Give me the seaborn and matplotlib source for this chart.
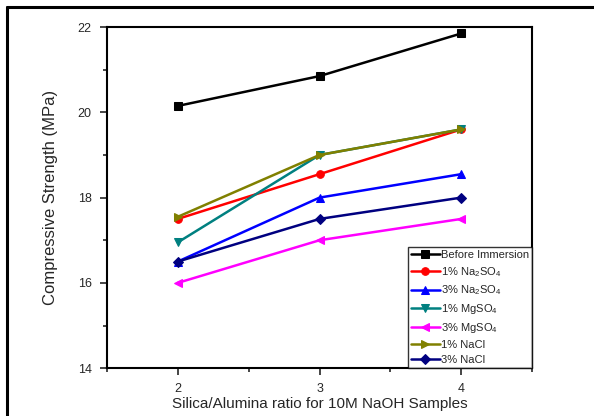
import matplotlib
matplotlib.use("Agg")
import matplotlib.pyplot as plt
from matplotlib.lines import Line2D
import seaborn as sns
import pandas as pd

ratios = [2, 3, 4]
before = [20.15, 20.85, 21.85]
na2so4_1 = [17.5, 18.55, 19.6]
na2so4_3 = [16.5, 18.0, 18.55]
mgso4_1 = [16.95, 19.0, 19.6]
mgso4_3 = [16.0, 17.0, 17.5]
nacl_1 = [17.55, 19.0, 19.6]
nacl_3 = [16.5, 17.5, 18.0]

labels = ["Before Immersion", "1% Na$_2$SO$_4$", "3% Na$_2$SO$_4$",
          "1% MgSO$_4$", "3% MgSO$_4$", "1% NaCl", "3% NaCl"]
series = [before, na2so4_1, na2so4_3, mgso4_1, mgso4_3, nacl_1, nacl_3]
colors = ["black", "#ff0000", "#0000ff", "#008080", "#ff00ff", "#808000", "#000080"]
markers = ["s", "o", "^", "v", "<", ">", "D"]

sns.set_style("ticks")
plt.rcParams['font.family'] = ['Liberation Sans', 'DejaVu Sans']
plt.rcParams['mathtext.fontset'] = 'custom'
plt.rcParams['mathtext.rm'] = 'Liberation Sans'

fig = plt.figure(figsize=(5.94, 4.16), dpi=100)
ax = fig.add_axes([0.180, 0.115, 0.716, 0.820])

for lab, vals, c, m in zip(labels, series, colors, markers):
    df = pd.DataFrame({"x": ratios, "y": vals})
    sns.lineplot(data=df, x="x", y="y", ax=ax, color=c, marker=m,
                 markersize=5.5, markeredgecolor=c, linewidth=1.8, label=lab)

ax.set_xlim(1.5, 4.5)
ax.set_ylim(14, 22)
ax.set_xticks([2, 3, 4])
ax.set_xticks([1.5, 2.5, 3.5, 4.5], minor=True)
ax.set_yticks([14, 16, 18, 20, 22])
ax.set_yticks([15, 17, 19, 21], minor=True)
ax.tick_params(axis='both', which='major', direction='out', length=5, width=1.2,
               labelsize=9, top=False, right=False)
ax.tick_params(axis='x', which='major', pad=6)
ax.tick_params(axis='y', which='major', pad=6)
ax.tick_params(axis='both', which='minor', direction='out', length=3, width=1.2,
               top=False, right=False)
for s in ax.spines.values():
    s.set_linewidth(1.5)
    s.set_color("black")

ax.set_xlabel("Silica/Alumina ratio for 10M NaOH Samples", fontsize=11, labelpad=1)
ax.set_ylabel("Compressive Strength (MPa)", fontsize=12, labelpad=14)

leg = ax.legend(loc="lower right", fontsize=8, frameon=True, fancybox=False,
                edgecolor="black", borderaxespad=0, handlelength=2.6,
                handletextpad=0.15, labelspacing=0.45, borderpad=0.25)
leg.get_frame().set_linewidth(1.0)

fig.add_artist(Line2D([7/594, 7/594], [0, 1 - 7/416], color="black", lw=2.2,
                      transform=fig.transFigure))
fig.add_artist(Line2D([7/594, 1], [1 - 7/416, 1 - 7/416], color="black", lw=2.2,
                      transform=fig.transFigure))

fig.savefig("out.png", dpi=100)
